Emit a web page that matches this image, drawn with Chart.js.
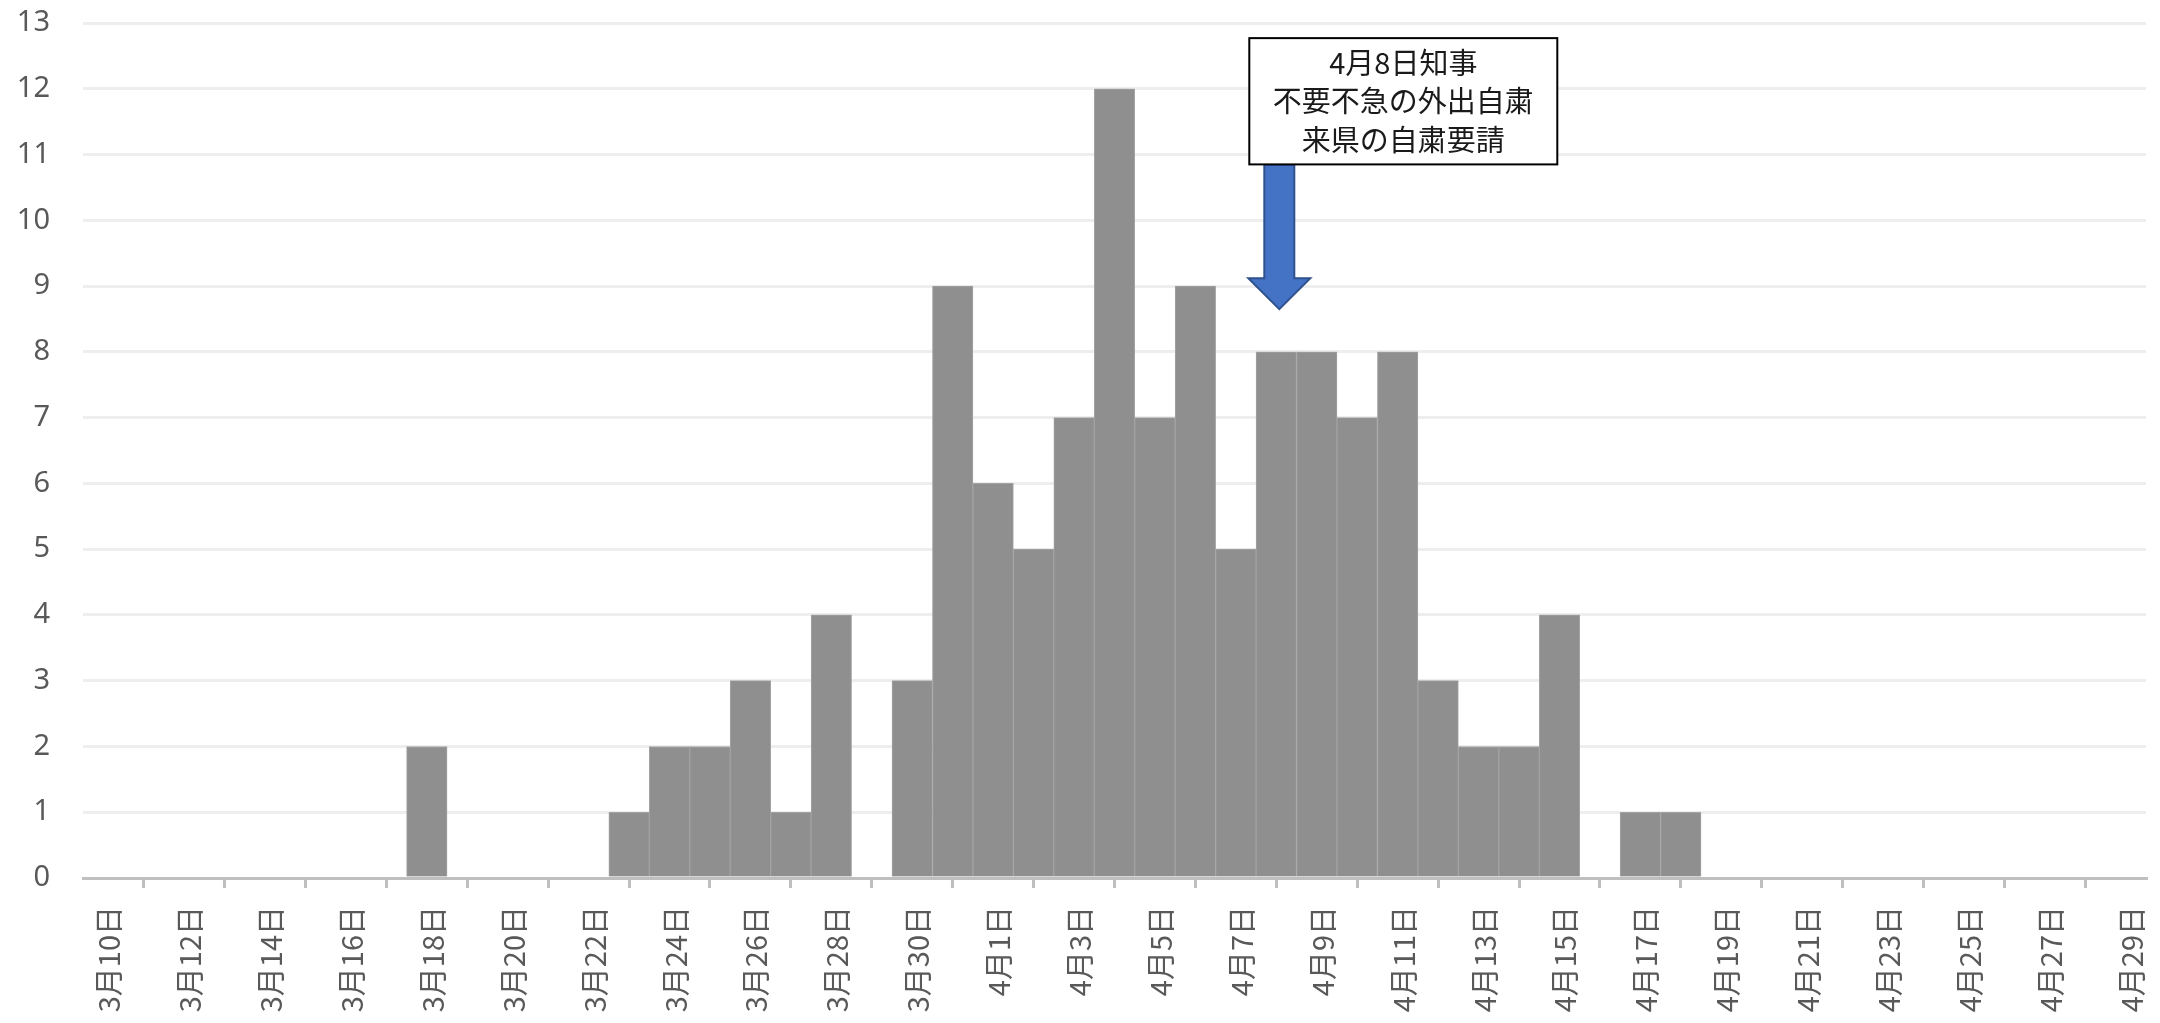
<!DOCTYPE html>
<html lang="ja">
  <head>
    <meta charset="UTF-8" />
    <title>日別陽性者数</title>
    <style>
      html, body { margin: 0; padding: 0; background: #fff; overflow: hidden; }
      #wrap { width: 2160px; height: 1023px; }
    </style>
  </head>
  <body>
    <div id="wrap"><canvas id="myChart" width="2160" height="1023"></canvas></div>

    <script src="https://cdn.jsdelivr.net/npm/chart.js"></script>
    <script>
      // 3月10日 .. 4月29日
      const labels = [
        "3月10日", "3月11日", "3月12日", "3月13日", "3月14日", "3月15日", "3月16日",
        "3月17日", "3月18日", "3月19日", "3月20日", "3月21日", "3月22日", "3月23日",
        "3月24日", "3月25日", "3月26日", "3月27日", "3月28日", "3月29日", "3月30日",
        "3月31日", "4月1日", "4月2日", "4月3日", "4月4日", "4月5日", "4月6日",
        "4月7日", "4月8日", "4月9日", "4月10日", "4月11日", "4月12日", "4月13日",
        "4月14日", "4月15日", "4月16日", "4月17日", "4月18日", "4月19日", "4月20日",
        "4月21日", "4月22日", "4月23日", "4月24日", "4月25日", "4月26日", "4月27日",
        "4月28日", "4月29日"
      ];
      const counts = [
        0, 0, 0, 0, 0, 0, 0, 0, 2, 0, 0, 0, 0, 1, 2, 2, 3, 1, 4, 0, 3,
        9, 6, 5, 7, 12, 7, 9, 5, 8, 8, 7, 8, 3, 2, 2, 4, 0, 1, 1,
        0, 0, 0, 0, 0, 0, 0, 0, 0, 0, 0
      ];
      const noteLines = ["4月8日知事", "不要不急の外出自粛", "来県の自粛要請"];
      const noteDay = "4月8日";

      // callout box + down arrow pointing at noteDay
      const calloutPlugin = {
        id: "callout",
        afterDatasetsDraw(chart) {
          const ctx = chart.ctx;
          const xs = chart.scales.x, ys = chart.scales.y;
          const cx = xs.getPixelForValue(labels.indexOf(noteDay)) + 3;
          const tipY = ys.getPixelForValue(8.65);
          const headY = ys.getPixelForValue(9.12);
          const boxBottom = ys.getPixelForValue(10.85);
          const boxTop = ys.getPixelForValue(12.77);
          const boxLeft = cx - 30, boxRight = cx + 278;

          ctx.save();
          // arrow
          ctx.beginPath();
          ctx.moveTo(cx - 15, boxBottom);
          ctx.lineTo(cx + 15, boxBottom);
          ctx.lineTo(cx + 15, headY);
          ctx.lineTo(cx + 31, headY);
          ctx.lineTo(cx, tipY);
          ctx.lineTo(cx - 31, headY);
          ctx.lineTo(cx - 15, headY);
          ctx.closePath();
          ctx.fillStyle = "#4472C4";
          ctx.fill();
          ctx.strokeStyle = "#2F528F";
          ctx.lineWidth = 2;
          ctx.stroke();

          // box
          ctx.fillStyle = "#ffffff";
          ctx.fillRect(boxLeft, boxTop, boxRight - boxLeft, boxBottom - boxTop);
          ctx.strokeStyle = "#000000";
          ctx.lineWidth = 2;
          ctx.strokeRect(boxLeft, boxTop, boxRight - boxLeft, boxBottom - boxTop);

          ctx.fillStyle = "#1a1a1a";
          ctx.font = '29px "Noto Sans CJK JP"';
          ctx.textAlign = "center";
          ctx.textBaseline = "middle";
          const midX = (boxLeft + boxRight) / 2;
          const step = (boxBottom - boxTop) / 3.3;
          noteLines.forEach((t, i) => {
            ctx.fillText(t, midX, boxTop + step * (i + 0.65));
          });
          ctx.restore();
        },
      };

      const ctx = document.getElementById("myChart").getContext("2d");
      const chart = new Chart(ctx, {
        type: "bar",
        data: {
          labels: labels,
          datasets: [
            {
              label: "陽性者数",
              data: counts,
              backgroundColor: "#8f8f8f",
              borderColor: "#a3a3a3",
              borderWidth: 1,
              barPercentage: 1,
              categoryPercentage: 1,
            },
          ],
        },
        options: {
          responsive: false,
          animation: false,
          layout: { padding: { top: 23, right: 14, left: 0, bottom: 0 } },
          plugins: {
            legend: { display: false },
            tooltip: { enabled: false },
          },
          scales: {
            x: {
              grid: {
                drawOnChartArea: false,
                drawTicks: true,
                tickLength: 10,
                color: "#bfbfbf",
                lineWidth: 3,
              },
              border: { color: "#bfbfbf", width: 3 },
              ticks: {
                autoSkip: false,
                maxRotation: 90,
                minRotation: 90,
                padding: 18,
                labelOffset: 6,
                color: "#595959",
                font: { family: '"Noto Sans CJK JP"', size: 29 },
                callback: (v, i) => (i % 2 === 0 ? labels[i] : null),
              },
              afterFit: (s) => { s.height = 145; s.paddingLeft = 0; s.paddingRight = 0; },
            },
            y: {
              min: 0,
              max: 13,
              ticks: {
                stepSize: 1,
                padding: 33,
                color: "#595959",
                font: { family: '"Noto Sans"', size: 29 },
              },
              grid: { color: "#eeeeee", lineWidth: 3, drawTicks: false },
              border: { display: false },
              afterFit: (s) => { s.width = 83; s.paddingTop = 0; s.paddingBottom = 0; },
            },
          },
        },
        plugins: [calloutPlugin],
      });
    </script>
  </body>
</html>
